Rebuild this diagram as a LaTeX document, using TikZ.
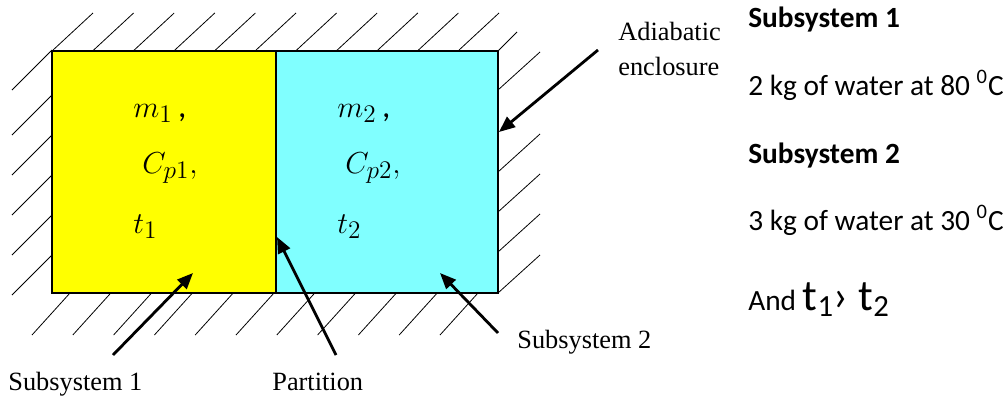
\documentclass[tikz,border=0pt]{standalone}
\usepackage{fontspec}
\setmainfont{Carlito}
\newfontfamily\labelfont{Liberation Serif}
\usetikzlibrary{arrows.meta, positioning, calc}
\definecolor{sysyellow}{HTML}{FFFF00}
\definecolor{syscyan}{HTML}{80FFFF}
\tikzset{
  sysbox/.style={draw=black, line width=0.9pt, inner sep=0pt, outer sep=0pt,
                 minimum width=4.46cm, minimum height=4.84cm},
  hatch/.style={draw=black, line width=0.45pt},
  pointer/.style={-{Triangle[length=3.2mm,width=2.6mm]}, line width=1.6pt, draw=black},
  figlabel/.style={font=\labelfont\fontsize{15}{20}\selectfont, inner sep=0pt, align=left},
  mathlabel/.style={font=\fontsize{19}{22}\selectfont, inner sep=0pt, anchor=base west},
  datatext/.style={font=\fontsize{16.7}{19}\selectfont, inner sep=0pt, anchor=base west},
  datahead/.style={font=\fontsize{16.7}{19}\selectfont\bfseries, inner sep=0pt, anchor=base west},
}
\begin{document}
\begin{tikzpicture}[x=0.02cm, y=-0.02cm]
\useasboundingbox (0,0) rectangle (1005,396);

% ---- adiabatic wall (hatching round the two boxes) ----
\foreach \i in {0,...,10}
  \draw[hatch] ({52+40.6*\i},51) -- ++(41,-38);
\foreach \y in {50,95,135,175,215,255}
  \draw[hatch] (52,\y) -- ++(-40,40);
\foreach \i in {0,...,10}
  \draw[hatch] ({70+40.8*\i},293) -- ++(-38,42);
\foreach \y in {90,172,212,252,293}
  \draw[hatch] (498,\y) -- ++(42,-38);
\draw[hatch] (498,51) -- ++(19,-19);

% ---- the two subsystems ----
\node[sysbox, fill=sysyellow, minimum width=4.48cm] (sub1) at (164,172) {};
\node[sysbox, fill=syscyan, minimum width=4.44cm, right=0pt of sub1] (sub2) {};

\node[mathlabel] (m1) at (133,117) {$m_1$\,,};
\node[mathlabel] (cp1) at (142,173) {$C_{p1},$};
\node[mathlabel] (t1) at (133,233) {$t_1$};
\node[mathlabel] (m2) at (337,117) {$m_2$\,,};
\node[mathlabel] (cp2) at (345,173) {$C_{p2},$};
\node[mathlabel] (t2) at (337,233) {$t_2$};

% ---- labels and pointers ----
\node[figlabel, anchor=north west] (adiab) at (618,22) {Adiabatic\\enclosure};
\node[figlabel, anchor=base west] (lab1) at (8,390) {Subsystem 1};
\node[figlabel, anchor=base west] (labpart) at (272,390) {Partition};
\node[figlabel, anchor=base west] (lab2) at (517,348) {Subsystem 2};

\coordinate (encltail) at (598,50);
\coordinate (encltip) at (499,132);
\coordinate (s1tail) at (113,355);
\coordinate (s1tip) at (193,273);
\coordinate (parttail) at (336,355);
\coordinate (parttip) at (277,237);
\coordinate (s2tail) at (498,333);
\coordinate (s2tip) at (440,273);

\draw[pointer] (encltail) -- (encltip);
\draw[pointer] (s1tail) -- (s1tip);
\draw[pointer] (parttail) -- (parttip);
\draw[pointer] (s2tail) -- (s2tip);

% ---- data (right) ----
\node[datahead] (head1) at (748,27) {Subsystem 1};
\node[datatext] (data1) at (748,95) {2 kg of water at 80 \textsuperscript{0}C};
\node[datahead] (head2) at (748,163) {Subsystem 2};
\node[datatext] (data2) at (748,230) {3 kg of water at 30 \textsuperscript{0}C};
\node[datatext] (rel) at (748,310)
   {And {\fontsize{25}{28}\selectfont t\textsubscript{1}› t\textsubscript{2}}};

\end{tikzpicture}
\end{document}
